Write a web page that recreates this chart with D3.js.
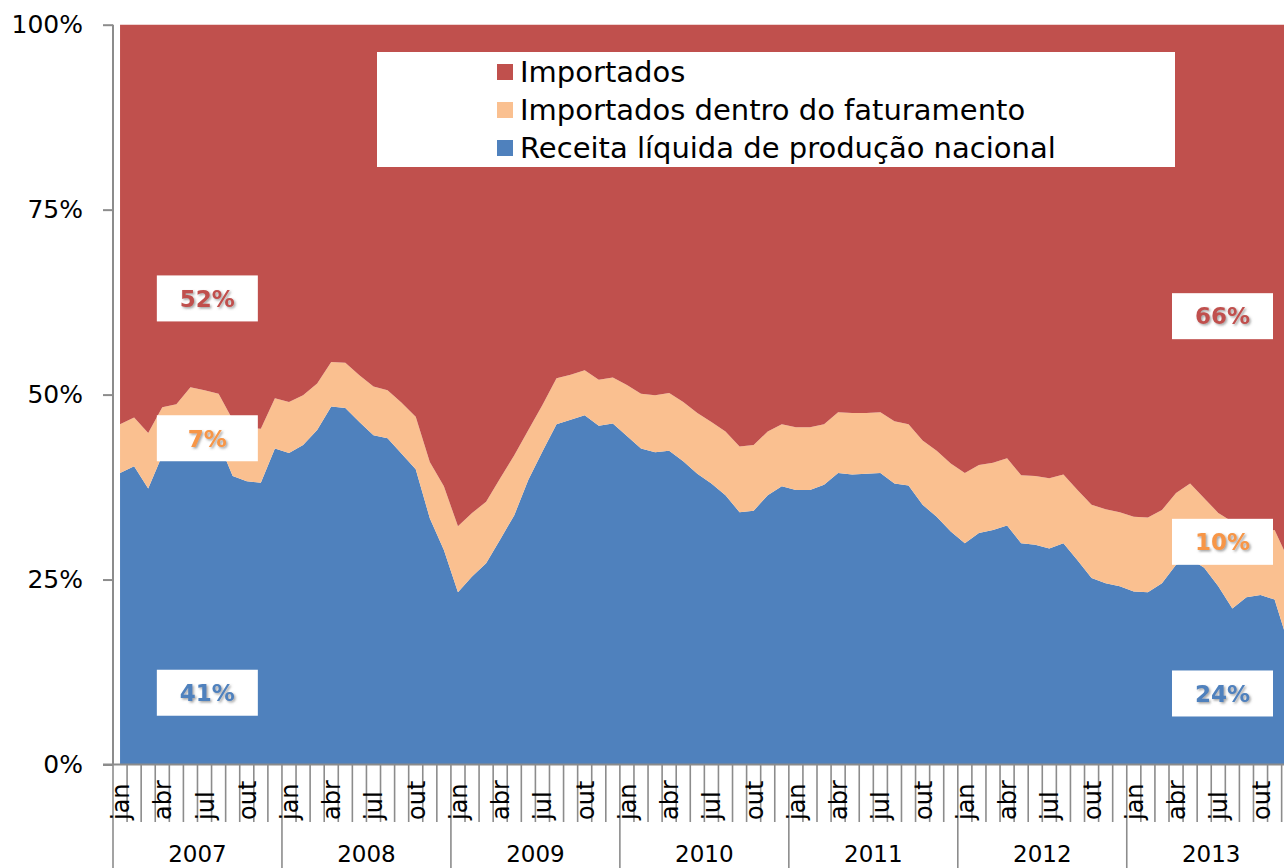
<!DOCTYPE html>
<html lang="pt">
<head>
  <meta charset="UTF-8">
  <title>Receita x Importados</title>
  <script src="https://d3js.org/d3.v7.min.js"></script>
  <style>
    html, body { margin: 0; padding: 0; background: #fff; }
    text { font-family: "DejaVu Sans", Verdana, sans-serif; }
  </style>
</head>
<body>
  <div id="container"></div>
  <script>
    // categories
    const monthNames = ['jan','fev','mar','abr','mai','jun','jul','ago','set','out','nov','dez'];
    const years = [2007, 2008, 2009, 2010, 2011, 2012, 2013];

    // series (% of total), jan/2007 .. dez/2013
    const receita = [
      39.4, 40.3, 37.3, 41.8, 42.3, 44.3, 44.0, 43.6, 39.0, 38.3, 38.1, 42.7,
      42.1, 43.2, 45.2, 48.4, 48.2, 46.3, 44.5, 44.1, 42.0, 39.9, 33.3, 29.0,
      23.3, 25.4, 27.2, 30.4, 33.7, 38.5, 42.3, 46.0, 46.6, 47.2, 45.8, 46.1,
      44.4, 42.7, 42.2, 42.4, 41.0, 39.3, 38.0, 36.4, 34.1, 34.3, 36.4, 37.6,
      37.1, 37.1, 37.8, 39.4, 39.2, 39.3, 39.4, 38.0, 37.7, 35.1, 33.5, 31.5,
      29.9, 31.3, 31.7, 32.3, 29.9, 29.7, 29.2, 29.9, 27.6, 25.2, 24.5, 24.1,
      23.4, 23.3, 24.5, 27.0, 27.8, 26.6, 24.1, 21.1, 22.6, 22.9, 22.3, 16.2
    ];
    const dentro = [
      6.6, 6.6, 7.5, 6.5, 6.4, 6.7, 6.6, 6.5, 7.6, 7.2, 7.3, 6.8,
      6.9, 6.7, 6.3, 6.0, 6.1, 6.3, 6.6, 6.5, 6.9, 7.1, 7.6, 8.6,
      8.9, 8.6, 8.3, 8.3, 8.1, 6.7, 6.3, 6.2, 6.1, 6.1, 6.2, 6.2,
      6.9, 7.4, 7.7, 7.8, 8.0, 8.2, 8.3, 8.6, 8.9, 8.9, 8.6, 8.4,
      8.5, 8.5, 8.2, 8.2, 8.3, 8.2, 8.2, 8.4, 8.3, 8.7, 8.9, 9.2,
      9.5, 9.2, 9.1, 9.1, 9.2, 9.3, 9.5, 9.3, 9.5, 9.9, 10.0, 10.0,
      10.1, 10.1, 9.9, 9.7, 10.2, 9.4, 9.9, 11.7, 9.2, 8.6, 9.4, 11.4
    ];
    const importados = [
      54.0, 53.1, 55.2, 51.7, 51.3, 49.0, 49.4, 49.9, 53.4, 54.5, 54.6, 50.5,
      51.0, 50.1, 48.5, 45.6, 45.7, 47.4, 48.9, 49.4, 51.1, 53.0, 59.1, 62.4,
      67.8, 66.0, 64.5, 61.3, 58.2, 54.8, 51.4, 47.8, 47.3, 46.7, 48.0, 47.7,
      48.7, 49.9, 50.1, 49.8, 51.0, 52.5, 53.7, 55.0, 57.0, 56.8, 55.0, 54.0,
      54.4, 54.4, 54.0, 52.4, 52.5, 52.5, 52.4, 53.6, 54.0, 56.2, 57.6, 59.3,
      60.6, 59.5, 59.2, 58.6, 60.9, 61.0, 61.3, 60.8, 62.9, 64.9, 65.5, 65.9,
      66.5, 66.6, 65.6, 63.3, 62.0, 64.0, 66.0, 67.2, 68.2, 68.5, 68.3, 72.4
    ];

    const yTicks = [0, 25, 50, 75, 100];
    const seriesNames = ['Receita líquida de produção nacional', 'Importados dentro do faturamento', 'Importados'];
    const colors = ['#4f81bd', '#fac090', '#c0504d'];
    const labelColors = ['#4f81bd', '#f79646', '#c0504d'];

    // annotation labels: text, series, position (month index, %)
    const notes = [
      { text: '52%', s: 2, m: 6.7, v: 63.0 },
      { text: '7%',  s: 1, m: 6.7, v: 44.1 },
      { text: '41%', s: 0, m: 6.7, v: 9.7 },
      { text: '66%', s: 2, m: 78.8, v: 60.6 },
      { text: '10%', s: 1, m: 78.8, v: 30.1 },
      { text: '24%', s: 0, m: 78.8, v: 9.6 }
    ];

    const width = 1284, height = 868;
    const nMonths = years.length * 12;
    const rows = receita.map((d, i) => ({ i: i, r: d, d: dentro[i], m: importados[i] }));

    const x = d3.scaleLinear().domain([0, nMonths]).range([113, 113 + nMonths * 14.08]);
    const y = d3.scaleLinear().domain([0, 100]).range([764.5, 24.7]);

    const svg = d3.select('#container').append('svg')
      .attr('width', width).attr('height', height)
      .style('display', 'block');

    const defs = svg.append('defs');
    const f = defs.append('filter').attr('id', 'shadow').attr('x', '-20%').attr('y', '-20%').attr('width', '140%').attr('height', '160%');
    f.append('feDropShadow').attr('dx', 1.5).attr('dy', 1.5).attr('stdDeviation', 1)
      .attr('flood-color', '#555').attr('flood-opacity', 0.55);

    // stacked areas
    const stack = d3.stack().keys(['r', 'd', 'm']);
    const layers = stack(rows);
    const area = d3.area()
      .x(d => x(d.data.i + 0.5))
      .y0(d => y(d[0]))
      .y1(d => y(d[1]));

    svg.append('g').selectAll('path').data(layers).enter().append('path')
      .attr('d', area)
      .attr('fill', (d, i) => colors[i]);

    const axisColor = '#8c8c8c';

    // y axis
    const yAxis = d3.axisLeft(y).tickValues(yTicks).tickSize(10).tickPadding(20)
      .tickFormat(d => d + '%');
    const gy = svg.append('g').attr('transform', 'translate(113,0)').call(yAxis);
    gy.select('.domain').remove();
    gy.selectAll('line').attr('stroke', axisColor).attr('stroke-width', 2);
    gy.selectAll('text').attr('font-size', 25).attr('fill', '#000')
      .attr('font-family', '"DejaVu Sans", Verdana, sans-serif');
    svg.append('line').attr('x1', 113).attr('x2', 113).attr('y1', y(100)).attr('y2', y(0))
      .attr('stroke', axisColor).attr('stroke-width', 2);

    // x axis
    svg.append('line').attr('x1', 103).attr('x2', width).attr('y1', y(0)).attr('y2', y(0))
      .attr('stroke', axisColor).attr('stroke-width', 2);

    const xg = svg.append('g');
    const bounds = d3.range(0, nMonths + 1);
    xg.selectAll('line.mtick').data(bounds).enter().append('line')
      .attr('class', 'mtick')
      .attr('x1', d => x(d)).attr('x2', d => x(d))
      .attr('y1', y(0))
      .attr('y2', d => d % 12 === 0 ? height : 822)
      .attr('stroke', axisColor).attr('stroke-width', 1.6);

    const monthIdx = d3.range(0, nMonths).filter(i => i % 3 === 0);
    xg.selectAll('text.mlab').data(monthIdx).enter().append('text')
      .attr('class', 'mlab')
      .attr('transform', d => `translate(${x(d + 0.5)},820) rotate(-90)`)
      .attr('y', 9)
      .attr('text-anchor', 'start')
      .attr('font-size', 24)
      .attr('fill', '#000')
      .text(d => monthNames[d % 12]);

    xg.selectAll('text.ylab').data(years).enter().append('text')
      .attr('class', 'ylab')
      .attr('x', (d, k) => x(k * 12 + 6))
      .attr('y', 862)
      .attr('text-anchor', 'middle')
      .attr('font-size', 23)
      .attr('fill', '#000')
      .text(d => d);

    // legend
    const lg = svg.append('g');
    lg.append('rect').attr('x', 377).attr('y', 52).attr('width', 798).attr('height', 115).attr('fill', '#fff');
    const legendOrder = [2, 1, 0];
    legendOrder.forEach((s, k) => {
      lg.append('rect').attr('x', 497).attr('y', 64 + k * 38).attr('width', 16).attr('height', 16)
        .attr('fill', colors[s]);
      lg.append('text').attr('x', 520).attr('y', 82 + k * 38)
        .attr('font-size', 29).attr('fill', '#000').text(seriesNames[s]);
    });

    // value labels
    const ng = svg.append('g');
    notes.forEach(n => {
      const cx = x(n.m), cy = y(n.v);
      ng.append('rect').attr('x', cx - 50.5).attr('y', cy - 23).attr('width', 101).attr('height', 46)
        .attr('fill', '#fff');
      ng.append('text').attr('x', cx).attr('y', cy).attr('dy', '0.36em')
        .attr('text-anchor', 'middle')
        .attr('font-size', 23).attr('font-weight', 'bold')
        .attr('fill', labelColors[n.s])
        .attr('filter', 'url(#shadow)')
        .text(n.text);
    });
  </script>
</body>
</html>
